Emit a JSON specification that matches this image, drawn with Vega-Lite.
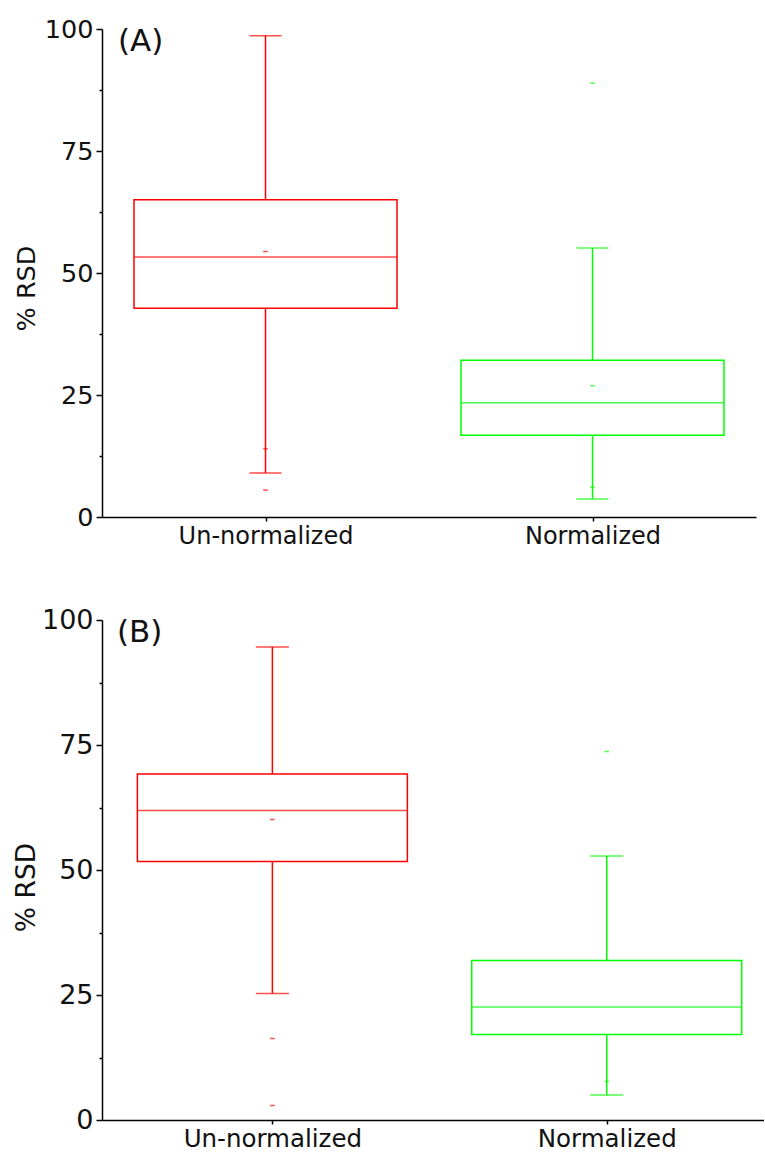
{
  "$schema": "https://vega.github.io/schema/vega-lite/v6.json",
  "background": "white",
  "padding": {"left": 13, "top": 17, "right": 0, "bottom": 0},
  "spacing": 58,
  "config": {
    "view": {"stroke": null},
    "font": "DejaVu Sans",
    "axis": {
      "grid": false,
      "domainColor": "#000",
      "domainWidth": 1.5,
      "tickColor": "#000",
      "tickWidth": 1.5,
      "labelColor": "#111",
      "titleColor": "#111",
      "labelFont": "DejaVu Sans",
      "titleFont": "DejaVu Sans",
      "titleFontWeight": "normal"
    },
    "title": {"font": "DejaVu Sans", "fontWeight": "normal", "color": "#111"}
  },
  "datasets": {
    "boxes": [
      {"panel": "A", "group": "Un-normalized", "lower": 9.0, "q1": 42.8, "median": 53.3, "q3": 65.0, "upper": 98.6},
      {"panel": "A", "group": "Normalized", "lower": 3.7, "q1": 16.75, "median": 23.4, "q3": 32.1, "upper": 55.1},
      {"panel": "B", "group": "Un-normalized", "lower": 25.3, "q1": 51.7, "median": 61.9, "q3": 69.2, "upper": 94.6},
      {"panel": "B", "group": "Normalized", "lower": 5.0, "q1": 17.1, "median": 22.6, "q3": 31.9, "upper": 52.8}
    ],
    "extras": [
      {"panel": "A", "group": "Un-normalized", "kind": "mean", "value": 54.4},
      {"panel": "A", "group": "Un-normalized", "kind": "1%", "value": 14.0},
      {"panel": "A", "group": "Un-normalized", "kind": "min", "value": 5.5},
      {"panel": "A", "group": "Normalized", "kind": "mean", "value": 26.9},
      {"panel": "A", "group": "Normalized", "kind": "max", "value": 88.9},
      {"panel": "A", "group": "Normalized", "kind": "1%", "value": 6.1},
      {"panel": "B", "group": "Un-normalized", "kind": "mean", "value": 60.1},
      {"panel": "B", "group": "Un-normalized", "kind": "1%", "value": 16.3},
      {"panel": "B", "group": "Un-normalized", "kind": "min", "value": 2.9},
      {"panel": "B", "group": "Normalized", "kind": "max", "value": 73.7},
      {"panel": "B", "group": "Normalized", "kind": "1%", "value": 7.7}
    ]
  },
  "vconcat": [
    {
      "width": 654,
      "height": 488,
      "title": {"text": "(A)", "anchor": "start", "frame": "group", "baseline": "alphabetic", "fontSize": 31, "dx": 16, "offset": -65},
      "encoding": {
        "x": {
          "field": "group", "type": "nominal", "sort": ["Un-normalized", "Normalized"],
          "scale": {"type": "point", "padding": 0.5},
          "axis": {"title": null, "labelAngle": 0, "labelFontSize": 24, "tickSize": 4, "labelPadding": 3}
        },
        "color": {
          "field": "group", "type": "nominal",
          "scale": {"domain": ["Un-normalized", "Normalized"], "range": ["#ff0000", "#00ff00"]},
          "legend": null
        }
      },
      "layer": [
        {
          "data": {"name": "boxes"},
          "transform": [{"filter": "datum.panel === 'A'"}],
          "layer": [
            {
              "mark": {"type": "rule", "strokeWidth": 1.5},
              "encoding": {
                "y": {
                  "field": "upper", "type": "quantitative", "title": "% RSD",
                  "scale": {"domain": [0, 100], "nice": false},
                  "axis": {
                    "values": [0, 12.5, 25, 37.5, 50, 62.5, 75, 87.5, 100],
                    "labelExpr": "datum.value % 25 === 0 ? datum.label : ''",
                    "tickSize": {"condition": {"test": "datum.value % 25 === 0", "value": 6}, "value": 3},
                    "labelFontSize": 25.5, "labelPadding": 3,
                    "titleFontSize": 25.5, "titleBaseline": "alphabetic", "titleX": -67.5, "titleY": 259
                  }
                },
                "y2": {"field": "q3"}
              }
            },
            {
              "mark": {"type": "rule", "strokeWidth": 1.5},
              "encoding": {"y": {"field": "q1", "type": "quantitative", "title": "% RSD"}, "y2": {"field": "lower"}}
            },
            {
              "mark": {"type": "bar", "size": 263, "filled": false, "strokeWidth": 1.5},
              "encoding": {"y": {"field": "q1", "type": "quantitative", "title": "% RSD"}, "y2": {"field": "q3"}}
            },
            {
              "mark": {"type": "tick", "orient": "horizontal", "size": 263, "thickness": 1.5},
              "encoding": {"y": {"field": "median", "type": "quantitative", "title": "% RSD"}}
            },
            {
              "mark": {"type": "tick", "orient": "horizontal", "size": 32, "thickness": 1.5},
              "encoding": {"y": {"field": "upper", "type": "quantitative", "title": "% RSD"}}
            },
            {
              "mark": {"type": "tick", "orient": "horizontal", "size": 32, "thickness": 1.5},
              "encoding": {"y": {"field": "lower", "type": "quantitative", "title": "% RSD"}}
            }
          ]
        },
        {
          "data": {"name": "extras"},
          "transform": [{"filter": "datum.panel === 'A'"}],
          "mark": {"type": "tick", "orient": "horizontal", "size": 4.5, "thickness": 1.5},
          "encoding": {"y": {"field": "value", "type": "quantitative", "title": "% RSD"}}
        }
      ]
    },
    {
      "width": 662,
      "height": 500,
      "title": {"text": "(B)", "anchor": "start", "frame": "group", "baseline": "alphabetic", "fontSize": 31, "dx": 15, "offset": -67},
      "encoding": {
        "x": {
          "field": "group", "type": "nominal", "sort": ["Un-normalized", "Normalized"],
          "scale": {"type": "point", "padding": 0.49, "align": 0.52},
          "axis": {"title": null, "labelAngle": 0, "labelFontSize": 24.5, "tickSize": 4, "labelPadding": 3}
        },
        "color": {
          "field": "group", "type": "nominal",
          "scale": {"domain": ["Un-normalized", "Normalized"], "range": ["#ff0000", "#00ff00"]},
          "legend": null
        }
      },
      "layer": [
        {
          "data": {"name": "boxes"},
          "transform": [{"filter": "datum.panel === 'B'"}],
          "layer": [
            {
              "mark": {"type": "rule", "strokeWidth": 1.5},
              "encoding": {
                "y": {
                  "field": "upper", "type": "quantitative", "title": "% RSD",
                  "scale": {"domain": [0, 100], "nice": false},
                  "axis": {
                    "values": [0, 12.5, 25, 37.5, 50, 62.5, 75, 87.5, 100],
                    "labelExpr": "datum.value % 25 === 0 ? datum.label : ''",
                    "tickSize": {"condition": {"test": "datum.value % 25 === 0", "value": 6}, "value": 3},
                    "labelFontSize": 27, "labelPadding": 3,
                    "titleFontSize": 26.5, "titleBaseline": "alphabetic", "titleX": -67.5, "titleY": 267
                  }
                },
                "y2": {"field": "q3"}
              }
            },
            {
              "mark": {"type": "rule", "strokeWidth": 1.5},
              "encoding": {"y": {"field": "q1", "type": "quantitative", "title": "% RSD"}, "y2": {"field": "lower"}}
            },
            {
              "mark": {"type": "bar", "size": 270, "filled": false, "strokeWidth": 1.5},
              "encoding": {"y": {"field": "q1", "type": "quantitative", "title": "% RSD"}, "y2": {"field": "q3"}}
            },
            {
              "mark": {"type": "tick", "orient": "horizontal", "size": 270, "thickness": 1.5},
              "encoding": {"y": {"field": "median", "type": "quantitative", "title": "% RSD"}}
            },
            {
              "mark": {"type": "tick", "orient": "horizontal", "size": 33, "thickness": 1.5},
              "encoding": {"y": {"field": "upper", "type": "quantitative", "title": "% RSD"}}
            },
            {
              "mark": {"type": "tick", "orient": "horizontal", "size": 33, "thickness": 1.5},
              "encoding": {"y": {"field": "lower", "type": "quantitative", "title": "% RSD"}}
            }
          ]
        },
        {
          "data": {"name": "extras"},
          "transform": [{"filter": "datum.panel === 'B'"}],
          "mark": {"type": "tick", "orient": "horizontal", "size": 4.5, "thickness": 1.5},
          "encoding": {"y": {"field": "value", "type": "quantitative", "title": "% RSD"}}
        }
      ]
    }
  ]
}
